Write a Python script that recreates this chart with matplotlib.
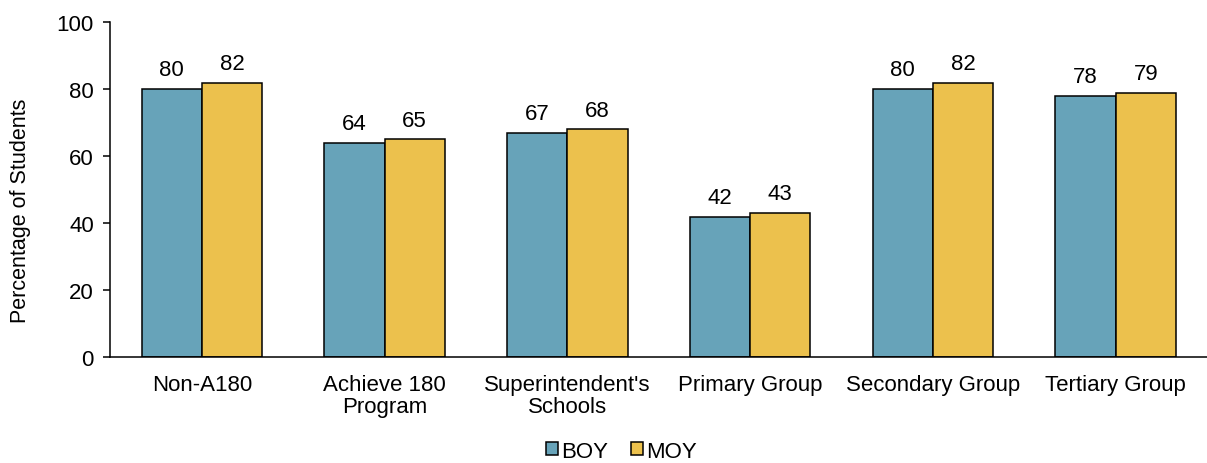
import numpy as np
import matplotlib.pyplot as plt

plt.rcParams['font.family'] = ['Liberation Sans', 'DejaVu Sans']

categories = ['Non-A180', 'Achieve 180\nProgram', "Superintendent's\nSchools",
              'Primary Group', 'Secondary Group', 'Tertiary Group']
boy = [80, 64, 67, 42, 80, 78]
moy = [82, 65, 68, 43, 82, 79]

blue = '#67A3B9'
yellow = '#ECC14D'

fig = plt.figure(figsize=(12.07, 4.64), dpi=100)
ax = fig.add_axes([0.0915, 0.228, 0.9085, 0.722])

x = np.arange(len(categories))
w = 0.33
b1 = ax.bar(x - w / 2, boy, w, color=blue, edgecolor='black', linewidth=1.1, label='BOY')
b2 = ax.bar(x + w / 2, moy, w, color=yellow, edgecolor='black', linewidth=1.1, label='MOY')

for bars in (b1, b2):
    for r in bars:
        ax.text(r.get_x() + r.get_width() / 2, r.get_height() + 2.6, f'{r.get_height():.0f}',
                ha='center', va='bottom', fontsize=16)

ax.set_xlim(-0.5, len(categories) - 0.5)
ax.set_ylim(0, 100)
ax.set_yticks(range(0, 101, 20))
ax.set_xticks(x)
ax.set_xticklabels(categories, fontsize=16, linespacing=1.1)
ax.tick_params(axis='x', length=0, pad=12)
ax.tick_params(axis='y', labelsize=16, length=5, width=1.1, direction='out', pad=7)
ax.set_ylabel('Percentage of Students', fontsize=15.5)
ax.yaxis.set_label_coords(-0.072, 0.44)

for s in ['top', 'right']:
    ax.spines[s].set_visible(False)
ax.spines['left'].set_linewidth(1.1)
ax.spines['bottom'].set_linewidth(1.1)

fig.legend(loc='lower center', bbox_to_anchor=(0.515, -0.04), ncol=2, frameon=False,
           fontsize=16, handlelength=0.55, handleheight=0.55, handletextpad=0.15,
           columnspacing=1.0)

fig.savefig('out.png', dpi=100)
